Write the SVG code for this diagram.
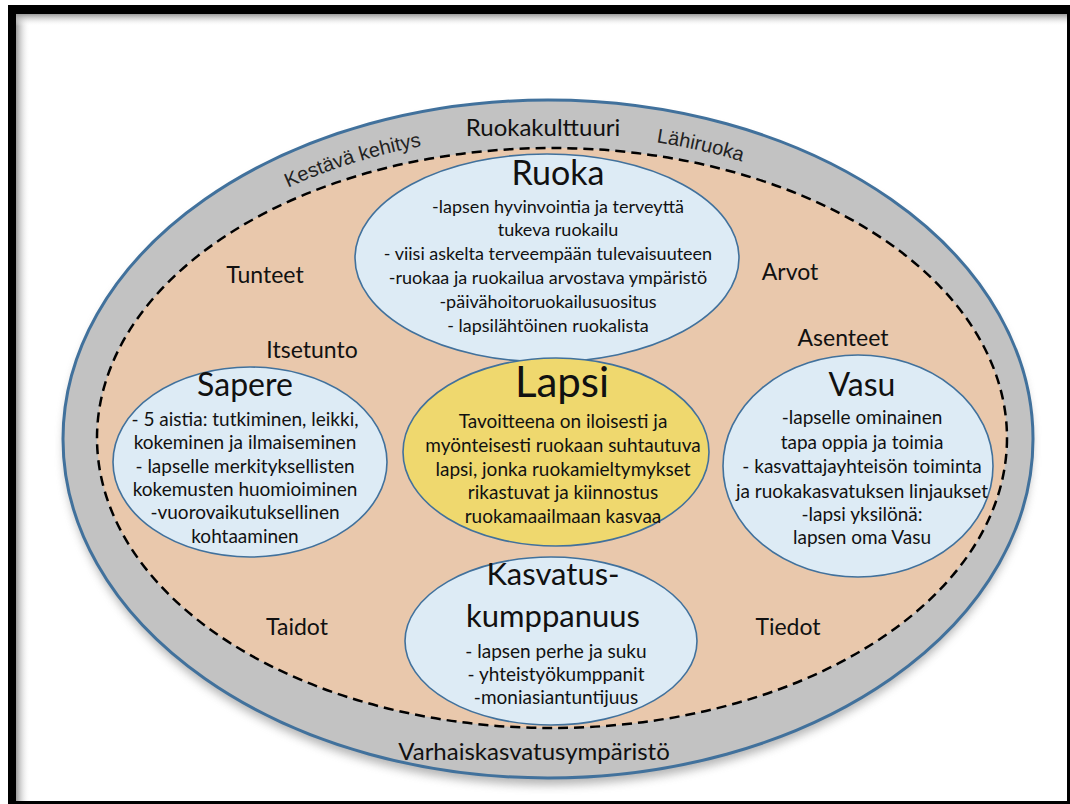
<svg xmlns="http://www.w3.org/2000/svg" width="1070" height="804" viewBox="0 0 1070 804">
  <defs>
    <linearGradient id="shL" x1="0" y1="0" x2="1" y2="0">
      <stop offset="0" stop-color="#9a9a9a"/>
      <stop offset="1" stop-color="#ffffff" stop-opacity="0"/>
    </linearGradient>
    <linearGradient id="shT" x1="0" y1="0" x2="0" y2="1">
      <stop offset="0" stop-color="#9a9a9a"/>
      <stop offset="1" stop-color="#ffffff" stop-opacity="0"/>
    </linearGradient>
    <filter id="blur" x="-10%" y="-10%" width="120%" height="120%">
      <feGaussianBlur stdDeviation="5"/>
    </filter>
    <path id="ringArc" d="M 87 439 A 463 305 0 0 1 1013 439"/>
  </defs>
  <style>
    .t { font-family: Lato, "Open Sans", "Liberation Sans", sans-serif; fill: #111; text-anchor: middle; }
    .a { font-family: "Liberation Sans", Arial, sans-serif; fill: #222; text-anchor: middle; font-size: 20px; }
    .blue { fill: #ddebf5; stroke: #41719c; stroke-width: 1.6; }
    .lbl { font-size: 23px; }
    .body { font-size: 19px; }
    .rb { font-size: 18px; }
  </style>

  <!-- frame -->
  <rect x="8" y="5" width="1062" height="799" fill="#000"/>
  <rect x="16" y="14" width="1051" height="787" fill="#fff"/>
  <rect x="16" y="14" width="14" height="787" fill="url(#shL)"/>
  <rect x="16" y="14" width="1051" height="12" fill="url(#shT)"/>

  <!-- outer ring -->
  <g id="environment">
    <ellipse cx="548" cy="446" rx="484" ry="339" fill="#777" opacity="0.55" filter="url(#blur)"/>
    <ellipse cx="548" cy="439" rx="485" ry="339" fill="#c2c2c2" stroke="#41719c" stroke-width="3"/>
    <ellipse cx="552" cy="438" rx="455" ry="290" fill="#e9c8ac" stroke="#000" stroke-width="2.5" stroke-dasharray="10 6"/>
    <text class="t" x="543" y="136" font-size="24">Ruokakulttuuri</text>
    <text class="a"><textPath href="#ringArc" startOffset="410">Kestävä kehitys</textPath></text>
    <text class="a"><textPath href="#ringArc" startOffset="760">Lähiruoka</textPath></text>
    <text class="t" x="534" y="760" font-size="24">Varhaiskasvatusympäristö</text>
  </g>

  <g id="labels">
    <text class="t lbl" x="265" y="283">Tunteet</text>
    <text class="t lbl" x="790" y="280">Arvot</text>
    <text class="t lbl" x="312" y="358">Itsetunto</text>
    <text class="t lbl" x="843" y="346">Asenteet</text>
    <text class="t lbl" x="297" y="635">Taidot</text>
    <text class="t lbl" x="788" y="635">Tiedot</text>
  </g>

  <g id="ruoka">
    <ellipse class="blue" cx="547" cy="258" rx="192" ry="104"/>
    <text class="t" x="558" y="185" font-size="34">Ruoka</text>
    <text class="t rb" x="558" y="213">-lapsen  hyvinvointia ja terveyttä</text>
    <text class="t rb" x="558" y="236">tukeva ruokailu</text>
    <text class="t rb" x="548" y="260">- viisi askelta terveempään tulevaisuuteen</text>
    <text class="t rb" x="548" y="284">-ruokaa ja ruokailua arvostava ympäristö</text>
    <text class="t rb" x="548" y="308">-päivähoitoruokailusuositus</text>
    <text class="t rb" x="548" y="332">- lapsilähtöinen ruokalista</text>
  </g>

  <g id="sapere">
    <ellipse class="blue" cx="250" cy="462" rx="137" ry="95"/>
    <text class="t" x="245" y="396" font-size="32">Sapere</text>
    <text class="t body" x="245" y="426">- 5 aistia: tutkiminen, leikki,</text>
    <text class="t body" x="245" y="449">kokeminen ja ilmaiseminen</text>
    <text class="t body" x="245" y="473">- lapselle merkityksellisten</text>
    <text class="t body" x="245" y="496">kokemusten huomioiminen</text>
    <text class="t body" x="245" y="519">-vuorovaikutuksellinen</text>
    <text class="t body" x="245" y="543">kohtaaminen</text>
  </g>

  <g id="lapsi">
    <ellipse cx="556" cy="452" rx="153" ry="94" fill="#efd86e" stroke="#41719c" stroke-width="1.6"/>
    <text class="t" x="562" y="397" font-size="42">Lapsi</text>
    <text class="t body" x="563" y="428">Tavoitteena on iloisesti ja</text>
    <text class="t body" x="563" y="452">myönteisesti ruokaan suhtautuva</text>
    <text class="t body" x="563" y="476">lapsi, jonka ruokamieltymykset</text>
    <text class="t body" x="563" y="499">rikastuvat ja kiinnostus</text>
    <text class="t body" x="563" y="523">ruokamaailmaan kasvaa</text>
  </g>

  <g id="vasu">
    <ellipse class="blue" cx="858" cy="466" rx="135" ry="111"/>
    <text class="t" x="862" y="396" font-size="32">Vasu</text>
    <text class="t body" x="862" y="424">-lapselle ominainen</text>
    <text class="t body" x="862" y="449">tapa  oppia ja toimia</text>
    <text class="t body" x="862" y="473">- kasvattajayhteisön toiminta</text>
    <text class="t body" x="862" y="498">ja ruokakasvatuksen linjaukset</text>
    <text class="t body" x="862" y="521">-lapsi yksilönä:</text>
    <text class="t body" x="862" y="544">lapsen oma Vasu</text>
  </g>

  <g id="kasvatuskumppanuus">
    <ellipse class="blue" cx="551" cy="641" rx="146" ry="84"/>
    <text class="t" x="553" y="585" font-size="31">Kasvatus-</text>
    <text class="t" x="553" y="627" font-size="31">kumppanuus</text>
    <text class="t body" x="556" y="658">- lapsen perhe ja suku</text>
    <text class="t body" x="556" y="681">- yhteistyökumppanit</text>
    <text class="t body" x="556" y="704">-moniasiantuntijuus</text>
  </g>
</svg>
